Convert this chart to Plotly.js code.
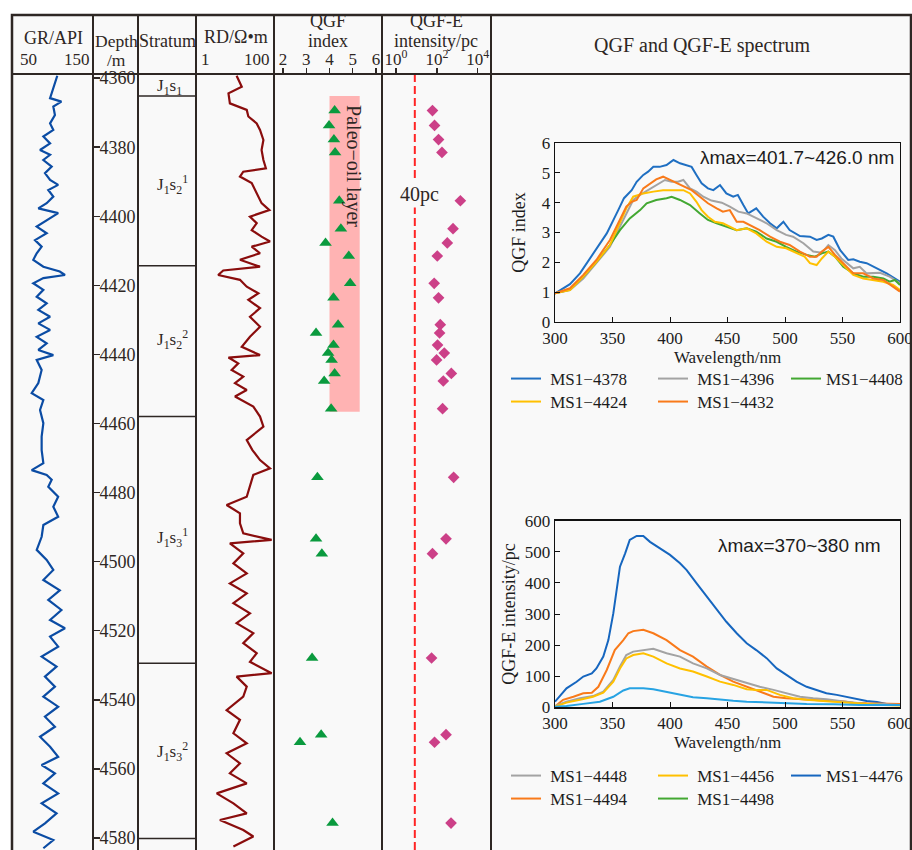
<!DOCTYPE html>
<html><head><meta charset="utf-8">
<script src="https://cdn.plot.ly/plotly-3.0.1.min.js"></script>
<style>html,body{margin:0;padding:0;background:#fff}</style>
</head><body><div id="chart" style="width:912px;height:850px"></div>
<script>
// ---------------- DATA ----------------
const grDepth = [4359.3,4361.5,4364.4,4365.8,4366.8,4368.2,4370.7,4373.1,4375,4376.9,4378.9,4380.8,4382.2,4383.7,4385.6,4387.5,4389.5,4390.9,4392.4,4394.3,4396.2,4397.7,4399.1,4401.1,4403,4404.9,4406.9,4408.8,4410.7,4412.6,4414.6,4416,4417,4417.9,4419.4,4421.3,4423.3,4425.2,4427.1,4429.1,4431,4432.9,4434.9,4436.8,4438.7,4440.2,
  4441.6,4444.5,4448.3,4451.2,4453.2,4456.1,4459.9,4463.8,4467.7,4471.5,4473.5,4474.9,4476.3,4478.3,4481.2,4484.1,4487,4489.4,4492.8,4496.6,4499.5,4502.4,4505.3,4508.3,4511.1,4514,4516.9,4519.3,4521.7,4524.6,4527.5,4530.4,4533.3,4536.2,4539.1,4542,4544.9,4547.8,4550.7,4553.6,4556.5,4558.9,4561.3,4564.2,4567.1,4570,4572.9,4575.8,4578.2,4580.6,4583];
const grValue = [105.9,103,99,97,111,101,103,97,101,88.7,97,84.6,97,88.7,99,90.7,97,107,94.8,101,92.8,82.5,107,92.8,80.5,92.8,78.4,86.6,80.5,76.3,88.7,109,115.4,88.7,76.3,88.7,80.5,92.8,82.5,97,82.5,97,80.5,92.8,82.5,101,
  80.5,86.6,82.5,74.3,88.7,84.6,88.7,86.6,86.6,88.7,74.3,92.8,99,94.8,107,101,107,88.7,86.6,80.5,92.8,101,88.7,109,94.8,111,97,115.4,97,107,86.6,105,90.7,103,88.7,107,90.7,103,84.6,97,107,86.6,103,88.7,107,86.6,105,90.7,76.3,101,88.7];

const rdDepth = [4359.3,4362.5,4364.4,4367.3,4369.2,4371.1,4373.1,4375,4377.9,4380.8,4383.7,4386.1,4387.1,4388.5,4390.4,4393.3,4396.2,4398.2,4400.1,4402,4404,4405.9,4407.3,4408.8,4410.7,4412.6,4414.6,4415.7,4417,4418.4,4420.4,4422.3,4424.2,4426.6,4429.1,4432,4434.9,4437.8,4440.2,4440.9,4442.6,4444.5,4446.4,4448.3,4450.3,4452.2,4455.1,4458,4460.9,4464.8,4467.7,
  4470.6,4473,4474.9,4478.3,4481.2,4483.6,4486,4488.9,4491.8,4493.7,4494.7,4497.6,4500.5,4503.4,4506.3,4509.2,4512,4515,4517.8,4520.7,4523.6,4526.5,4529,4532.3,4533.3,4536.2,4539.1,4543,4545.8,4549.7,4552.6,4555.5,4558.4,4561.3,4564.2,4567.1,4570,4572.9,4574.8,4577.7,4579.6,4582.5];
const rdValue = [11,14.9,6.8,7.4,20,22,36,43.8,53.5,48,53.5,62,16.3,13.4,26.8,36,48,76,24.2,36,26.8,48,79,26.8,43.8,13.4,43.8,5.0,3.7,13.4,20,39.7,22,43.8,24.2,43.8,24.2,14.9,43.8,6.8,12.1,8.2,16.3,10,20,10,29.5,43.8,53.5,20,28,
  43.8,79,29.5,24.2,20,6.1,13.4,13.4,16.3,87,7.4,16.3,9.1,20,7.4,20,9.1,24.2,11,29.5,16.3,36,24.2,87,11,20,16.3,6.1,13.4,9.1,20,6.1,13.4,7.4,20,3.4,9.1,20,4.1,16.3,29.5,9.1];

const sampleDepth = [4369.4,4373.7,4377.8,4381.5,4395.5,4403.6,4407.7,4411.5,4419.4,4423.6,4431.4,4433.8,4437.3,4439.6,4441.6,4445.5,4447.7,4455.7,4475.6,4493.4,4497.7,4527.9,4550.1,4552.3,4575.7];
const qgfIndex = [4.22,3.98,4.19,4.24,4.42,4.49,3.83,4.83,4.89,4.17,4.37,3.42,4.17,3.94,4.09,4.22,3.77,4.07,3.48,3.42,3.67,3.25,3.64,2.73,4.13];
const qgfeIntensity = [61,77,121,178,1422,621,325,105,74,121,147,136,108,231,97,512,207,191,665,281,61,55,281,77,495];

const strataNames = ['J<sub>1</sub>s<sub>1</sub>','J<sub>1</sub>s<sub>2</sub><sup>1</sup>','J<sub>1</sub>s<sub>2</sub><sup>2</sup>','J<sub>1</sub>s<sub>3</sub><sup>1</sup>','J<sub>1</sub>s<sub>3</sub><sup>2</sup>'];
const strataLabelDepth = [4362.6,4390.9,4435.8,4492.9,4555.1];
const strataBoundaries = [4365.2,4414.3,4458.0,4529.4,4580.2];

const oilLayerDepth = [4365.2,4456.6];
const oilLayerQgf = [4.0,5.3];
const qgfeCutoff = 8.3;   // dashed cut-off line ("40pc")

// QGF spectra (top inset)
const wl4378 = [300,313,321.7,333,345,355,360,366.7,371,376.8,381,385.5,391,397,403,408.7,413,418.8,423,427.5,433,437.7,443.5,449,455,459,463.8,468,475,481,487,492.8,498.6,504,513,521.7,527.5,532,537.7,542,548,555,559.4,565,571,579.7,588.4,600];
const q4378 = [0.96,1.27,1.63,2.3,2.97,3.75,4.15,4.42,4.7,4.93,5.04,5.2,5.2,5.26,5.43,5.32,5.26,5.2,4.93,4.65,4.48,4.42,4.59,4.31,4.2,4.26,3.92,3.64,3.81,3.53,3.31,3.14,3.36,3.08,2.88,2.86,2.75,2.8,2.92,2.86,2.41,2.08,2.1,2.02,1.97,1.8,1.63,1.35];
const wl4396 = [300,313,324.6,336,347.8,356.5,362,368,374,381,388,395.6,401.4,407,411.6,417.4,423,429,436,445,452,459.4,466.7,475,484,492.8,501,507,516,524.6,532,537.7,543.5,549,559.4,565,571,582.6,591,600];
const q4396 = [0.96,1.07,1.46,1.97,2.52,3.2,3.64,4.09,4.26,4.42,4.59,4.76,4.7,4.7,4.76,4.48,4.37,4.2,4.07,4.0,3.87,3.7,3.64,3.47,3.31,3.08,2.92,2.86,2.64,2.36,2.32,2.58,2.41,2.13,1.8,1.85,1.63,1.65,1.52,1.3];
const wl4408 = [300,313,324.6,336,347.8,356.5,365,374,379.7,388,397,401.4,408.7,417.4,426,433,440.6,449,458,466.7,475,484,492.8,501,510,518.8,526,532,537.7,543.5,550.7,559.4,568,576.8,585.5,591,595.6,600];
const q4408 = [0.96,1.09,1.52,2.02,2.58,3.08,3.47,3.75,3.98,4.09,4.15,4.2,4.09,3.92,3.64,3.42,3.31,3.2,3.08,3.14,3.03,2.8,2.69,2.52,2.36,2.25,2.19,2.3,2.36,2.19,1.85,1.63,1.52,1.52,1.46,1.35,1.41,1.24];
const wl4424 = [300,313,324.6,336,347.8,356.5,362,368,376.8,385.5,394,403,411.6,417.4,423,427.5,433,439,446,452,458,466.7,475,484,492.8,501,510,517,521.7,527.5,532,537.7,543.5,550.7,559.4,568,576.8,585.5,594,600];
const q4424 = [0.96,1.07,1.52,2.02,2.58,3.31,3.81,4.2,4.31,4.37,4.42,4.42,4.42,4.31,4.03,3.75,3.53,3.36,3.31,3.2,3.08,3.14,2.97,2.69,2.52,2.47,2.3,2.19,1.97,1.91,2.13,2.36,2.19,1.91,1.58,1.46,1.41,1.35,1.24,1.07];
const wl4432 = [300,313,324.6,336,347.8,356.5,362,366.7,371,376.8,382.6,388,394,400,405.8,413,418.8,426,433,440.6,446,452,458,463.8,469.6,478,487,495.6,504,513,521.7,527.5,532,537.7,543.5,550.7,559.4,568,576.8,585.5,594,600];
const q4432 = [0.96,1.13,1.58,2.08,2.75,3.47,3.87,4.03,4.09,4.48,4.65,4.78,4.87,4.76,4.65,4.54,4.42,4.2,3.98,3.81,3.7,3.75,3.36,3.36,3.25,3.08,2.86,2.69,2.58,2.36,2.19,2.19,2.36,2.52,2.25,1.97,1.63,1.63,1.46,1.41,1.18,1.02];

// QGF-E spectra (bottom inset)
const wl4476 = [300,305.8,310,318.8,324.6,332,336,342,346.4,350.7,353.6,356.5,361,365,371,376.8,382.6,391,400,408.7,414.5,423,432,440.6,449,458,466.7,475,484,492.8,501,510,518.8,527.5,536,545,553.6,562,571,580,588.4,600];
const e4476 = [18,45,61,82,99,109,125,163,216,302,377,452,495,538,551,551,532,511,490,463,441,399,356,313,275,238,206,184,158,125,104,82.5,66,56,45,40,34,26,20,17,11,11];
const wl4494 = [300,307,316,324.6,332,337.7,345,352,359.4,363.8,368,376.8,385.5,397,408.7,420,432,443.5,455,466.7,478,490,501,513,524.6,536,547.8,559.4,571,585.5,600];
const e4494 = [2,24,34,45,47,66,120,184,216,238,245,249,238,216,184,163,131,104,82.5,66,50,34,29,26,24,21,20,15,13,13,11];
const wl4448 = [300,310,321.7,333,342,350.7,356.5,362,368,376.8,385.5,397,408.7,420,432,443.5,455,466.7,478,490,501,513,524.6,536,547.8,559.4,571,585.5,600];
const e4448 = [4,18,29,36,50,88,131,168,179,184,188,174,163,141,125,104,91,79,66,56,45,34,29,26,20,15,11,11,7.5];
const wl4456 = [300,310,321.7,333,342,350.7,356.5,362,368,376.8,385.5,397,408.7,420,432,443.5,455,466.7,475,484,495.6,507,518.8,530,542,556.5,571,585.5,600];
const e4456 = [2,15,24,34,47,82,125,157,168,174,163,141,125,115,99,82.5,72,58,56,56,40,29,24,20,18,15,11,7.5,6];
const wl4498 = [300,310,324.6,339,350.7,359.4,365,376.8,385.5,397,408.7,420,432,443.5,455,466.7,484,501,518.8,542,565,600];
const e4498 = [2,4,11,18,34,54,61,61,58,50,40,32,29,24,21,18,15,13,11,10,7.5,7.5];

// ---------------- STYLE / LAYOUT ----------------
const W = 912, H = 850;
const px = v => v / W, py = v => 1 - v / H;
const SERIF = 'Liberation Serif, Times New Roman, serif';
const SANS = 'Liberation Sans, Arial, sans-serif';
const INK = '#2e2724';
const trackTop = py(74);

const traces = [];
traces.push({x: grValue, y: grDepth, xaxis: 'x', yaxis: 'y', mode: 'lines', line: {color: '#0b4ca4', width: 2.2}, showlegend: false});
traces.push({x: rdValue, y: rdDepth, xaxis: 'x2', yaxis: 'y', mode: 'lines', line: {color: '#8a0d0d', width: 2.2}, showlegend: false});
traces.push({x: qgfIndex, y: sampleDepth, xaxis: 'x3', yaxis: 'y', mode: 'markers', marker: {symbol: 'triangle-up', size: 11, color: '#0a9a3e'}, showlegend: false});
traces.push({x: qgfeIntensity, y: sampleDepth, xaxis: 'x4', yaxis: 'y', mode: 'markers', marker: {symbol: 'diamond', size: 9, color: '#cc4088'}, showlegend: false});

const NB = '\u00a0';
function spec(x, y, name, color, ax, ay, legend, showlegend) {
  return {x, y, name, xaxis: ax, yaxis: ay, mode: 'lines', line: {color, width: 2}, legend, showlegend};
}
// top inset
traces.push(spec(wl4378, q4378, NB + 'MS1−4378', '#1f6fc2', 'x5', 'y2', 'legend', true));
traces.push(spec(wl4396, q4396, NB + 'MS1−4396', '#a3a3a3', 'x5', 'y2', 'legend', true));
traces.push(spec(wl4408, q4408, 'MS1−4408', '#43a832', 'x5', 'y2', 'legend2', true));
traces.push(spec(wl4424, q4424, NB + 'MS1−4424', '#ffc000', 'x5', 'y2', 'legend3', true));
traces.push(spec(wl4432, q4432, NB + 'MS1−4432', '#f97a1a', 'x5', 'y2', 'legend3', true));
// bottom inset curves
traces.push(spec(wl4476, e4476, 'MS1−4476', '#1666bf', 'x6', 'y3', 'legend4', false));
traces.push(spec(wl4494, e4494, 'MS1−4494', '#f97a1a', 'x6', 'y3', 'legend4', false));
traces.push(spec(wl4448, e4448, 'MS1−4448', '#a3a3a3', 'x6', 'y3', 'legend4', false));
traces.push(spec(wl4456, e4456, 'MS1−4456', '#ffc000', 'x6', 'y3', 'legend4', false));
traces.push(spec(wl4498, e4498, 'MS1−4498', '#27a3e3', 'x6', 'y3', 'legend4', false));
// bottom inset legend keys (MS1-4498 is keyed green in the original although its curve is light blue)
traces.push(spec([null], [null], NB + 'MS1−4448', '#a3a3a3', 'x6', 'y3', 'legend4', true));
traces.push(spec([null], [null], NB + 'MS1−4456', '#ffc000', 'x6', 'y3', 'legend4', true));
traces.push(spec([null], [null], 'MS1−4476', '#1666bf', 'x6', 'y3', 'legend5', true));
traces.push(spec([null], [null], NB + 'MS1−4494', '#f97a1a', 'x6', 'y3', 'legend6', true));
traces.push(spec([null], [null], NB + 'MS1−4498', '#43a832', 'x6', 'y3', 'legend6', true));

const shapes = [];
shapes.push({type: 'rect', xref: 'paper', yref: 'paper', x0: px(12), x1: px(911), y0: -0.05, y1: py(15), fillcolor: '#f9f9f9', line: {width: 0}, layer: 'below'});
shapes.push({type: 'rect', xref: 'x3', yref: 'y', x0: oilLayerQgf[0], x1: oilLayerQgf[1], y0: oilLayerDepth[0], y1: oilLayerDepth[1], fillcolor: '#ffb3b3', line: {width: 0}, layer: 'below'});
shapes.push({type: 'line', xref: 'x4', yref: 'y domain', x0: qgfeCutoff, x1: qgfeCutoff, y0: 0, y1: 1, line: {color: '#ff2424', width: 2, dash: '8px,4px'}});
shapes.push({type: 'rect', xref: 'paper', yref: 'paper', x0: px(12), x1: px(911), y0: -0.05, y1: py(15), line: {color: INK, width: 2.5}});
shapes.push({type: 'line', xref: 'paper', yref: 'paper', x0: px(12), x1: px(911), y0: trackTop, y1: trackTop, line: {color: INK, width: 2}});
[93, 138, 196, 274, 382, 491].forEach(v => shapes.push({type: 'line', xref: 'paper', yref: 'paper', x0: px(v), x1: px(v), y0: -0.05, y1: py(15), line: {color: INK, width: 2}}));
strataBoundaries.forEach(b => shapes.push({type: 'line', xref: 'paper', yref: 'y', x0: px(138), x1: px(196), y0: b, y1: b, line: {color: INK, width: 1.5}}));

const annotations = [];
function ann(text, x, y, size, extra) {
  annotations.push(Object.assign({text, x: px(x), y: py(y), xref: 'paper', yref: 'paper', showarrow: false, xanchor: 'center', yanchor: 'middle', font: {family: SERIF, size, color: INK}}, extra || {}));
}
ann('GR/API', 53, 38, 18);
ann('50', 18, 60, 17, {xanchor: 'left'});
ann('150', 92, 60, 17, {xanchor: 'right'});
ann('Depth', 116, 41, 17.5);
ann('/m', 116, 60, 17.5);
ann('Stratum', 167, 41, 18);
ann('RD/Ω•m', 236, 37, 18);
ann('1', 199, 60, 17, {xanchor: 'left'});
ann('100', 272, 60, 17, {xanchor: 'right'});
ann('QGF', 328, 21, 18);
ann('index', 328, 41, 18);
ann('QGF-E', 436, 21, 18);
ann('intensity/pc', 436, 41, 18);
ann('QGF and QGF-E spectrum', 702, 46, 20);
ann('40pc', 419, 194, 20, {bgcolor: '#f9f9f9'});
ann('λmax=401.7~426.0 nm', 797, 157, 19, {font: {family: SANS, size: 19, color: '#1c1c1c'}});
ann('λmax=370~380 nm', 799, 545, 19, {font: {family: SANS, size: 19, color: '#1c1c1c'}});
strataNames.forEach((n, i) => annotations.push({text: n, x: px(155), xref: 'paper', xanchor: 'left', y: strataLabelDepth[i], yref: 'y', showarrow: false, font: {family: SERIF, size: 17, color: INK}}));
annotations.push({text: 'Paleo−oil layer', textangle: 90, x: 5.0, xref: 'x3', y: 4385.4, yref: 'y', showarrow: false, font: {family: SERIF, size: 20, color: INK}});

const hidden = {visible: false, fixedrange: true};
const insetAx = {showline: true, mirror: true, linecolor: '#111', linewidth: 1.3, ticks: 'inside', ticklen: 5, tickcolor: '#111', showgrid: false, zeroline: false, ticklabeloverflow: 'allow', tickfont: {family: SERIF, size: 17, color: '#1c1c1c'}};
const legendBase = {orientation: 'h', xanchor: 'left', yanchor: 'middle', entrywidth: 102, entrywidthmode: 'pixels', bgcolor: 'rgba(0,0,0,0)', font: {family: SERIF, size: 17, color: '#1c1c1c'}, itemclick: false};
const Lx1 = px(506), Lx3 = px(786);
const headerAx = {anchor: 'y', side: 'top', ticks: 'outside', ticklen: 5, tickwidth: 1.5, tickcolor: INK, showgrid: false, zeroline: false, showline: false, automargin: false, ticklabeloverflow: 'allow', ticklabelstandoff: -4, tickfont: {family: SERIF, size: 17, color: INK}};

const layout = {
  width: W, height: H, autosize: false,
  margin: {l: 0, r: 0, t: 0, b: 0, pad: 0, autoexpand: false},
  paper_bgcolor: '#ffffff', plot_bgcolor: 'rgba(0,0,0,0)',
  shapes, annotations,
  yaxis: {domain: [0, trackTop], range: [4583.5, 4358.8], anchor: 'free', position: px(93), ticks: 'inside', ticklen: 6, tickwidth: 1.5, tickcolor: INK, ticklabelposition: 'inside', ticklabeloverflow: 'allow', tick0: 4360, dtick: 20, showgrid: false, zeroline: false, showline: false, automargin: false, tickfont: {family: SERIF, size: 18, color: INK}},
  xaxis: Object.assign({domain: [px(12), px(93)], range: [50, 150], anchor: 'y'}, hidden),
  xaxis2: Object.assign({domain: [px(196), px(274)], type: 'log', range: [0, 2], anchor: 'y'}, hidden),
  xaxis3: Object.assign({}, headerAx, {domain: [px(274), px(382)], range: [1.61, 6.26], tickvals: [2, 3, 4, 5, 6]}),
  xaxis4: Object.assign({}, headerAx, {domain: [px(382), px(491)], type: 'log', range: [-0.69, 4.655], tickvals: [1, 100, 10000], ticktext: ['10<sup>0</sup>', '10<sup>2</sup>', '10<sup>4</sup>']}),
  xaxis5: Object.assign({}, insetAx, {domain: [px(555), px(900)], range: [300, 600], dtick: 50, anchor: 'y2', title: {text: 'Wavelength/nm', standoff: 2, font: {family: SERIF, size: 17, color: '#1c1c1c'}}}),
  yaxis2: Object.assign({}, insetAx, {domain: [py(322), py(143)], range: [0, 6], dtick: 1, anchor: 'x5', title: {text: 'QGF index', standoff: 11, font: {family: SERIF, size: 18, color: '#1c1c1c'}}}),
  xaxis6: Object.assign({}, insetAx, {domain: [px(555), px(900)], range: [300, 600], dtick: 50, anchor: 'y3', title: {text: 'Wavelength/nm', standoff: 2, font: {family: SERIF, size: 17, color: '#1c1c1c'}}}),
  yaxis3: Object.assign({}, insetAx, {domain: [py(707.3), py(520.7)], range: [0, 600], dtick: 100, anchor: 'x6', title: {text: 'QGF-E intensity/pc', standoff: 4, font: {family: SERIF, size: 18, color: '#1c1c1c'}}}),
  legend:  Object.assign({}, legendBase, {x: Lx1, y: py(379)}),
  legend2: Object.assign({}, legendBase, {x: Lx3, y: py(379)}),
  legend3: Object.assign({}, legendBase, {x: Lx1, y: py(402)}),
  legend4: Object.assign({}, legendBase, {x: Lx1, y: py(776)}),
  legend5: Object.assign({}, legendBase, {x: Lx3, y: py(776)}),
  legend6: Object.assign({}, legendBase, {x: Lx1, y: py(799)})
};

Plotly.newPlot('chart', traces, layout, {displayModeBar: false, staticPlot: true});
</script></body></html>
